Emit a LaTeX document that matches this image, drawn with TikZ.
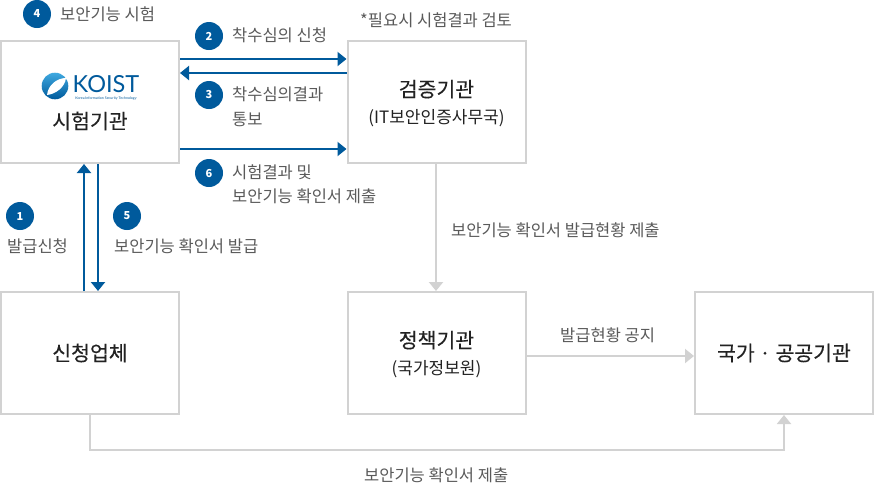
\documentclass[tikz,border=0pt]{standalone}
\usepackage{fontspec}
\setmainfont{Noto Sans CJK KR}
\newfontfamily\titlefont[FakeBold=0.25]{Noto Sans CJK KR}
\newfontfamily\logofont{Lato}
\usetikzlibrary{arrows.meta}
\tikzset{>={Triangle[width=14pt,length=9pt]}}
\definecolor{kblue}{HTML}{005A9C}
\definecolor{kcyan}{HTML}{3FA9E0}
\definecolor{kgrey}{HTML}{D2D2D2}
\definecolor{ktext}{HTML}{5A5A5A}
\definecolor{kdark}{HTML}{222222}
\tikzset{
  orgbox/.style={draw=kgrey, line width=2pt, fill=white, minimum width=178pt, minimum height=122pt, inner sep=0pt, align=center, text=kdark, font=\titlefont\fontsize{20.5}{27}\selectfont},
  orgtext/.style={inner sep=0pt, align=center, text=kdark, yshift=-1.5pt, font=\titlefont\fontsize{20.5}{27}\selectfont},
  badge/.style={circle, fill=kblue, text=white, minimum size=28pt, inner sep=0pt, font=\fontsize{11}{11}\selectfont\bfseries},
  steptext/.style={anchor=west, inner sep=0pt, text=ktext, align=left, font=\fontsize{16.5}{24.5}\selectfont},
  bluearrow/.style={draw=kblue, line width=2pt, ->},
  greyarrow/.style={draw=kgrey, line width=2pt, ->},
}
\newcommand{\subline}[1]{{\normalfont\fontsize{17}{17}\selectfont #1}}

\begin{document}
\begin{tikzpicture}[x=1pt, y=-1pt]
    \useasboundingbox (0,0) rectangle (874,483);

    \node[orgbox] (lab) at (90,102) {};
    \node[orgbox] (review) at (436.5,102) {};
    \node[orgbox] (apply) at (90,353) {신청업체};
    \node[orgbox] (policy) at (436.5,353) {};
    \node[orgbox] (public) at (784,353) {국가 · 공공기관};
    \node[orgtext] (review-name) at (review) {검증기관\\\subline{(IT보안인증사무국)}};
    \node[orgtext] (policy-name) at (policy) {정책기관\\\subline{(국가정보원)}};

    % logo
    \shade[top color=kcyan, bottom color=kblue] (55,86) circle (13.3);
    \fill[white] (47,95) .. controls (48,85) and (57,78) .. (66,78) .. controls (65,87) and (56,94) .. (47,95);
    \node[inner sep=0pt, text=kblue] (logo) at (106,84.5) {\logofont\fontsize{23.5}{24}\selectfont KOIST};
    \node[inner sep=0pt, text=kblue] (logo-sub) at (106,98) {\logofont\fontsize{3.6}{4}\selectfont Korea Information Security Technology};
    \node[inner sep=0pt, text=kdark, font=\titlefont\fontsize{20.5}{20.5}\selectfont] (lab-name) at (90,121) {시험기관};

    \draw[bluearrow] (lab.east |- 0,59) -- (review.west |- 0,59);
    \draw[bluearrow] (review.west |- 0,73) -- (lab.east |- 0,73);
    \draw[bluearrow] (lab.east |- 0,149) -- (review.west |- 0,149);
    \draw[bluearrow] (apply.north -| 84,0) -- (lab.south -| 84,0);
    \draw[bluearrow] (lab.south -| 98,0) -- (apply.north -| 98,0);

    \coordinate (notice) at (436,450);
    \draw[greyarrow] (review.south -| notice) -- (policy.north -| notice);
    \draw[greyarrow] (policy.east |- 0,356) -- (public.west |- 0,356);
    \draw[greyarrow] (apply.south) |- (notice) -| (public.south);

    \node[badge] (b1) at (20,216) {1};
    \node[badge] (b2) at (209,36) {2};
    \node[badge] (b3) at (209,95) {3};
    \node[badge] (b4) at (37,14) {4};
    \node[badge] (b5) at (127,216) {5};
    \node[badge] (b6) at (209,173) {6};

    \node[steptext] (t1) at (7,246) {발급신청};
    \node[steptext] (t2) at (232,35) {착수심의 신청};
    \node[steptext] (t3) at (232,107) {착수심의결과\\통보};
    \node[steptext] (t4) at (60,14) {보안기능 시험};
    \node[steptext] (t5) at (114,246) {보안기능 확인서 발급};
    \node[steptext] (t6) at (232,184.5) {시험결과 및\\보안기능 확인서 제출};
    \node[steptext] (t7) at (360,20) {*필요시 시험결과 검토};
    \node[steptext] (t8) at (451,230) {보안기능 확인서 발급현황 제출};
    \node[steptext] (t9) at (560,335) {발급현황 공지};
    \node[steptext] (t10) at (364,475) {보안기능 확인서 제출};
\end{tikzpicture}
\end{document}
